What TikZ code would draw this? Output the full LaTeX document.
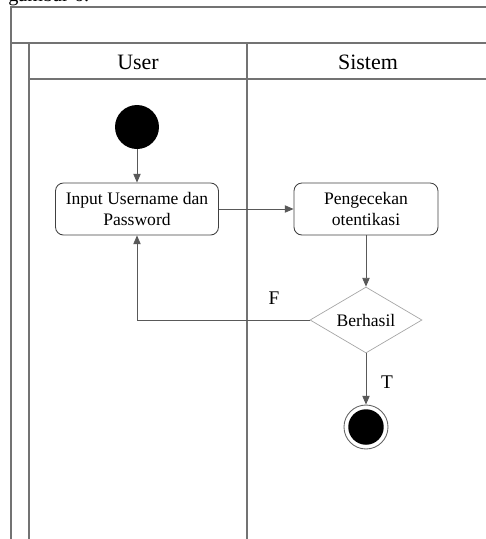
\documentclass[tikz,border=0pt]{standalone}
\usepackage{fontspec}
\setmainfont{Liberation Serif}
\usetikzlibrary{
		positioning,
		arrows.meta,
		shapes.geometric
	}
\tikzset{
		>={Triangle[length=5pt,width=4.2pt]},
		lane/.style={draw=black!55, line width=0.8pt},
		flow/.style={->, draw=black!65, line width=0.45pt},
		aktivitas/.style={draw=black!75, rounded corners=4.5pt, line width=0.5pt, align=center, font=\fontsize{10}{12}\selectfont},
		keputusan/.style={diamond, draw=black!35, aspect=1.7, inner sep=0pt, minimum width=2.24cm, minimum height=1.32cm, font=\fontsize{10}{12}\selectfont},
		judul/.style={font=\fontsize{12.5}{14}\selectfont}
	}

\begin{document}
\begin{tikzpicture}[x=0.02cm, y=-0.02cm] % 1 unit = 1 px of the 486x539 image
		\useasboundingbox (0,0) rectangle (486,539);
		% caption, cut off at the top
		\node[anchor=base west, inner sep=0pt, font=\fontsize{11.5}{13}\selectfont] (cap) at (8,1) {gambar 6.};
		% swimlane frame
		\draw[lane] (490,7) -- (11,7) -- (11,545);
		\draw[lane] (11,43) -- (490,43);
		\draw[lane] (29,43) -- (29,545);
		\draw[lane] (29,79) -- (490,79);
		\draw[lane] (247,43) -- (247,545);
		\node[judul] (user) at (138,62) {User};
		\node[judul] (sistem) at (368,62) {Sistem};
		% activity nodes
		\node[circle, fill=black, minimum size=0.88cm, inner sep=0pt] (mulai) at (137,127) {};
		\node[aktivitas, minimum width=3.26cm, minimum height=1.04cm] (input) at (137,209) {Input Username dan\\Password};
		\node[aktivitas, minimum width=2.88cm, minimum height=1.04cm] (cek) at (366,209) {Pengecekan\\otentikasi};
		\node[keputusan] (hasil) at (366,320) {Berhasil};
		\node[circle, draw=black!60, fill=white, line width=0.5pt, minimum size=0.88cm, inner sep=0pt] (akhir) at (366,427) {};
		\fill (akhir.center) circle (0.355cm);
		\coordinate (belok) at (137,320);
		% connectors
		\draw[flow] (mulai) -- (input);
		\draw[flow] (input) -- (cek);
		\draw[flow] (cek) -- (hasil);
		\draw[flow] (hasil.west) -- (belok) -- (input.south);
		\draw[flow] (hasil) -- (akhir);
		\node[font=\fontsize{11}{13}\selectfont] (lblF) at (274,298) {F};
		\node[font=\fontsize{11}{13}\selectfont] (lblT) at (387,382) {T};
	\end{tikzpicture}
\end{document}
